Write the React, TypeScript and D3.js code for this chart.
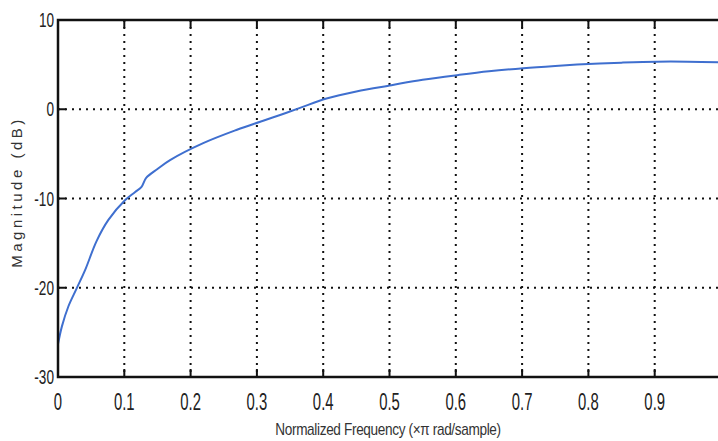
import React from "react";
import * as d3 from "d3";

// magnitude response
const freq = [0, 0.006, 0.0156, 0.028, 0.041, 0.058, 0.076, 0.101, 0.116, 0.126, 0.133, 0.15, 0.169, 0.219, 0.27, 0.305, 0.335, 0.365, 0.405, 0.45, 0.503, 0.55, 0.604, 0.65, 0.702, 0.75, 0.8, 0.85, 0.903, 0.95, 1.0];
const magnitude = [-26.3, -24.3, -22.1, -20.1, -18.0, -14.8, -12.4, -10.2, -9.3, -8.7, -7.7, -6.7, -5.7, -3.8, -2.3, -1.4, -0.64, 0.15, 1.2, 2.0, 2.7, 3.3, 3.84, 4.25, 4.6, 4.85, 5.07, 5.22, 5.33, 5.33, 5.26];

const xTicks = [0, 0.1, 0.2, 0.3, 0.4, 0.5, 0.6, 0.7, 0.8, 0.9];
const yTicks = [10, 0, -10, -20, -30];

const xTitle = "Normalized Frequency  (\u00d7\u03c0 rad/sample)";
const yTitle = "Magnitude (dB)";

export default function App() {
  const width = 718;
  const height = 441;
  const left = 58, right = 721, top = 20, bottom = 377;

  const x = d3.scaleLinear().domain([0, 1]).range([left, right]);
  const y = d3.scaleLinear().domain([-30, 10]).range([bottom, top]);

  const line = d3.line<number>()
    .x((d, i) => x(freq[i]))
    .y(d => y(d))
    .curve(d3.curveCatmullRom.alpha(0.5));

  const font = "'Liberation Sans', Arial, sans-serif";

  return (
    <svg width={width} height={height} style={{ position: "absolute", left: 0, top: 0, background: "#fff" }}>
      {/* grid */}
      {xTicks.filter(t => t > 0).map(t => (
        <line key={"gx" + t} x1={x(t)} x2={x(t)} y1={top} y2={bottom}
          stroke="#111" strokeWidth={2} strokeDasharray="2 5" />
      ))}
      {yTicks.filter(t => t > -30 && t < 10).map(t => (
        <line key={"gy" + t} x1={left} x2={right} y1={y(t)} y2={y(t)}
          stroke="#111" strokeWidth={2} strokeDasharray="2 5" />
      ))}

      {/* tick marks */}
      {xTicks.map(t => (
        <g key={"tx" + t}>
          <line x1={x(t)} x2={x(t)} y1={bottom} y2={bottom - 8} stroke="#111" strokeWidth={2} />
          <line x1={x(t)} x2={x(t)} y1={top} y2={top + 8} stroke="#111" strokeWidth={2} />
        </g>
      ))}
      {yTicks.map(t => (
        <line key={"ty" + t} x1={left} x2={left + 8} y1={y(t)} y2={y(t)} stroke="#111" strokeWidth={2} />
      ))}

      {/* curve */}
      <path d={line(magnitude) || ""} fill="none" stroke="#3f6fcf" strokeWidth={2} />

      {/* frame */}
      <rect x={left} y={top} width={right - left} height={bottom - top} fill="none" stroke="#111" strokeWidth={2.5} />

      {/* tick labels */}
      {xTicks.map(t => (
        <text key={"lx" + t} x={0} y={0} textAnchor="middle" fontFamily={font} fontSize={24} fill="#222"
          transform={`translate(${x(t)},${410}) scale(0.62,1)`}>
          {t === 0 ? "0" : d3.format(".1f")(t)}
        </text>
      ))}
      {yTicks.map(t => (
        <text key={"ly" + t} x={0} y={0} textAnchor="end" fontFamily={font} fontSize={20} fill="#222"
          transform={`translate(${54},${y(t) + 7}) scale(0.68,1)`}>
          {t}
        </text>
      ))}

      {/* titles */}
      <text x={0} y={0} textAnchor="middle" fontFamily={font} fontSize={16} fill="#333"
        transform={`translate(388,435) scale(0.85,1)`} letterSpacing={-0.4}>
        {xTitle}
      </text>
      <text transform={`translate(22,192) rotate(-90)`} textAnchor="middle" fontFamily={font} fontSize={15}
        fill="#333" letterSpacing={3.5}>
        {yTitle}
      </text>
    </svg>
  );
}
